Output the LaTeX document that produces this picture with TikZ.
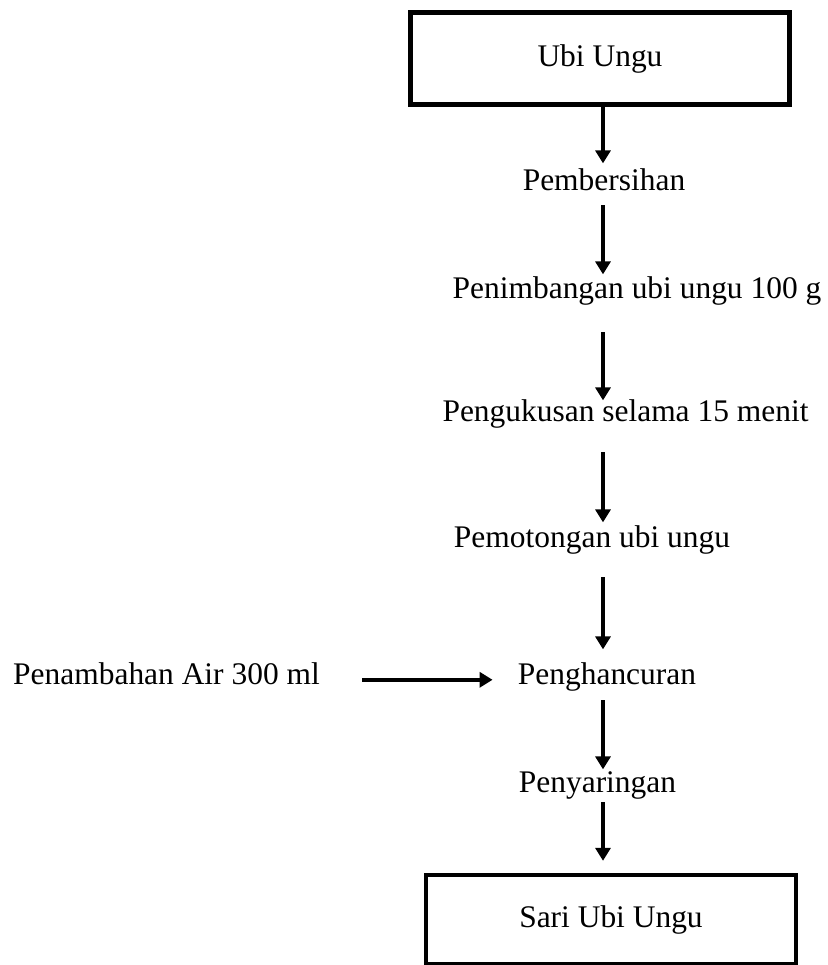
\documentclass[tikz,border=0pt]{standalone}
\usepackage{fontspec}
\setmainfont{Liberation Serif}
\usetikzlibrary{shapes,arrows.meta,positioning,calc}

\begin{document}
\begin{tikzpicture}[x=0.02cm, y=-0.02cm,
  every node/.style={font=\fontsize{17.9}{21}\selectfont},
  endbox/.style={draw, line width=2.5pt, inner sep=0pt},
  steptext/.style={anchor=base, inner sep=0pt, text height=0.7em, text depth=0.22em},
  flow/.style={-{Triangle[width=0.3cm, length=0.26cm]}, line width=2pt}]
\useasboundingbox (0,0) rectangle (828,965);

% Start and end boxes
\node[endbox, minimum width=7.58cm, minimum height=1.84cm] (ubi) at (600,58.5) {Ubi Ungu};
\node[endbox, minimum width=7.4cm, minimum height=1.79cm] (sari) at (611,919.75) {Sari Ubi Ungu};

% Process steps
\node[steptext] (pemb) at (604,190) {Pembersihan};
\node[steptext] (penim) at (637,298) {Penimbangan ubi ungu 100 g};
\node[steptext] (pengk) at (625.5,421) {Pengukusan selama 15 menit};
\node[steptext] (pemot) at (592,547) {Pemotongan ubi ungu};
\node[steptext] (pengh) at (607,684) {Penghancuran};
\node[steptext] (penyr) at (597.5,792) {Penyaringan};

% Added water
\node[steptext] (tambah) at (166.5,684) {Penambahan Air 300 ml};

% Arrows
\coordinate (spine) at (603,0);
\foreach \from/\to/\sa/\sb in {ubi/pemb/0cm/0.28cm, pemb/penim/0.22cm/0.22cm,
    penim/pengk/0.6cm/0.16cm, pengk/pemot/0.54cm/0.24cm, pemot/pengh/0.52cm/0.44cm,
    pengh/penyr/0.24cm/0.2cm, penyr/sari/0.12cm/0.24cm} {
  \draw[flow, shorten <=\sa, shorten >=\sb] (\from.south -| spine) -- (\to.north -| spine);
}
\draw[flow, shorten <=0.84cm, shorten >=0.5cm] (tambah.east) -- (tambah.east -| pengh.west);
\end{tikzpicture}
\end{document}
